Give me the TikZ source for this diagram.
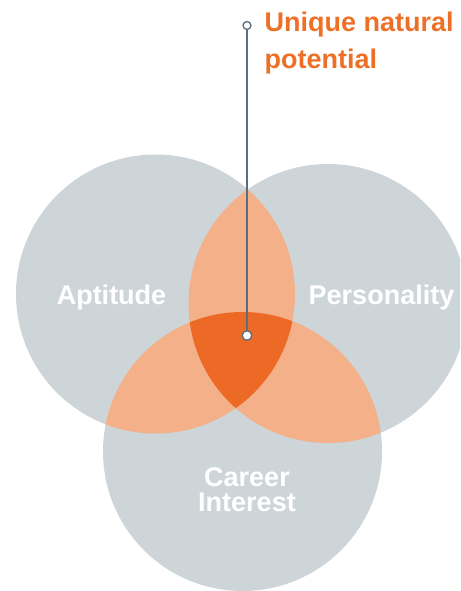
\documentclass[tikz,border=0pt]{standalone}
\usepackage{fontspec}
\setmainfont{Liberation Sans}
\definecolor{venngray}{HTML}{CED5D9}
\definecolor{lightor}{HTML}{F3B089}
\definecolor{darkor}{HTML}{EC6A26}
\definecolor{titleor}{HTML}{EE7027}
\definecolor{pin}{HTML}{5A6E7C}
\tikzset{
  lbl/.style={text=white,font=\fontsize{27}{27}\selectfont\bfseries,inner sep=0pt},
  ttl/.style={text=titleor,font=\fontsize{27}{27}\selectfont\bfseries,inner sep=0pt,anchor=base west},
  pinend/.style={circle,draw=pin,fill=white,line width=1.3pt,inner sep=0pt},
  pinline/.style={draw=pin,line width=1.4pt}
}
\begin{document}
\begin{tikzpicture}[x=1pt,y=-1pt]
\useasboundingbox (0,0) rectangle (460,591);
\clip (0,0) rectangle (460,591);
\coordinate (A) at (155.5,294);
\coordinate (P) at (328,303.5);
\coordinate (C) at (242.5,451.5);
\def\R{139.5}
% base circles
\fill[venngray] (A) circle[radius=\R];
\fill[venngray] (P) circle[radius=\R];
\fill[venngray] (C) circle[radius=\R];
% pairwise overlaps
\begin{scope}
  \clip (A) circle[radius=\R];
  \fill[lightor] (P) circle[radius=\R];
  \fill[lightor] (C) circle[radius=\R];
\end{scope}
\begin{scope}
  \clip (P) circle[radius=\R];
  \fill[lightor] (C) circle[radius=\R];
\end{scope}
% triple overlap
\begin{scope}
  \clip (A) circle[radius=\R];
  \clip (P) circle[radius=\R];
  \fill[darkor] (C) circle[radius=\R];
\end{scope}
% labels
\node[lbl,anchor=base] (apt) at (111.5,304) {Aptitude};
\node[lbl,anchor=base] (per) at (381.5,304) {Personality};
\node[lbl,anchor=base] (car1) at (247,486.5) {Career};
\node[lbl,anchor=base] (car2) at (247,511) {Interest};
% title
\node[ttl] (t1) at (264.5,31.5) {Unique natural};
\node[ttl] (t2) at (264.5,69) {potential};
% pin
\node[pinend,minimum size=8pt] (top) at (247,25.5) {};
\node[pinend,minimum size=9.5pt] (dot) at (247,335.5) {};
\draw[pinline] (top) -- (dot);
\end{tikzpicture}
\end{document}
